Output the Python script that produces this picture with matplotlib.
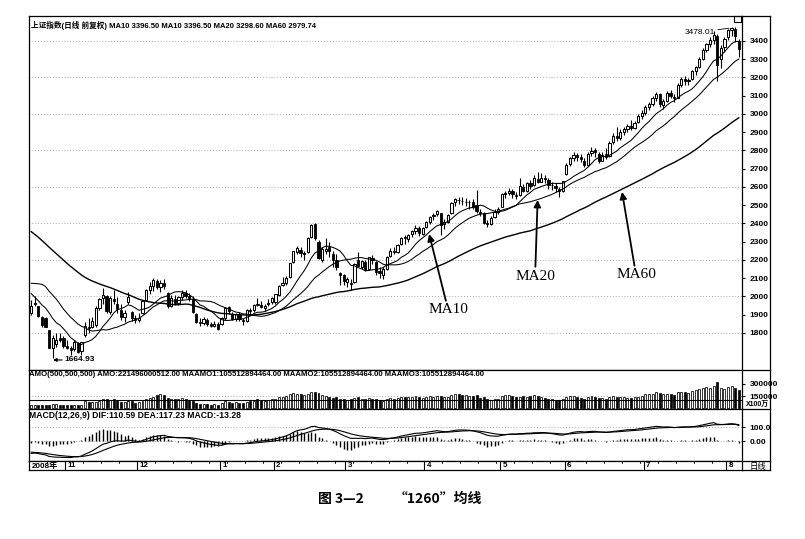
import matplotlib
matplotlib.use('Agg')
import matplotlib.pyplot as plt
from matplotlib.lines import Line2D
from matplotlib.patches import Rectangle
import numpy as np
import pandas as pd

plt.rcParams['font.family'] = ['Liberation Sans', 'Noto Sans CJK SC', 'DejaVu Sans']

W, H = 805, 539

# closes before the visible window (late Jul - Oct 17 2008), only used for MA60 / MACD
pre_close = [2860, 2860, 2900, 2920, 2860, 2850, 2800, 2830, 2775,
             2803, 2717, 2670, 2668, 2657, 2605, 2470, 2435, 2420, 2450, 2450,
             2320, 2370, 2445, 2400, 2405, 2400, 2350, 2375, 2370, 2397,
             2325, 2337, 2300, 2290, 2202, 2143, 2146, 2151, 2078, 2079,
             1986, 1929, 1895, 2075, 2236, 2201, 2201, 2298, 2293,
             2173, 2157, 2093, 2074, 2000, 1990, 2073, 1996, 1895, 1930]

# visible daily bars, 2008-10-20 .. 2009-08-06
opens = [
    1910, 1960, 1945, 1890, 1880, 1815, 1715, 1740, 1775, 1770,
    1727, 1715, 1710, 1745, 1700, 1790, 1835, 1830, 1845, 1935, 1990, 2000, 1915, 1985, 1960, 1925, 1885, 1968, 1915, 1880,
    1870, 1910, 1980, 2035, 2055, 2085, 2050, 2075, 2020, 1945, 1985, 1965, 1995, 2020, 2000, 1985, 1905, 1860, 1855, 1870, 1850, 1840, 1850,
    1850, 1880, 1940, 1905, 1875, 1905, 1870, 1865, 1925, 1925, 1960, 1955, 1935, 1960, 1970,
    1970, 2010, 2065, 2075, 2105, 2190, 2245, 2255, 2235, 2245, 2325, 2395, 2300, 2200, 2250, 2270, 2230, 2200, 2130, 2115,
    2080, 2075, 2080, 2200, 2160, 2190, 2150, 2210, 2190, 2140, 2120, 2150, 2220, 2250, 2245, 2285, 2325, 2315, 2340, 2360, 2375, 2345,
    2380, 2410, 2440, 2450, 2455, 2395, 2410, 2455, 2515, 2530, 2525, 2520, 2515, 2515, 2500, 2465, 2455, 2400, 2395, 2435, 2465,
    2490, 2560, 2565, 2580, 2555, 2555, 2600, 2580, 2620, 2610, 2645, 2630, 2650, 2640, 2610, 2605, 2590, 2580,
    2670, 2725, 2760, 2775, 2765, 2745, 2720, 2785, 2800, 2780, 2745, 2780, 2770, 2845, 2880, 2870, 2900, 2915, 2935, 2925, 2955, 2990,
    3005, 3040, 3055, 3090, 3110, 3050, 3070, 3115, 3095, 3090, 3160, 3190, 3180, 3190, 3235, 3255, 3300, 3350, 3385, 3405, 3430, 3300, 3365,
    3420, 3460, 3465, 3400]
highs = [
    1980, 2000, 1950, 1895, 1890, 1818, 1790, 1800, 1800, 1785,
    1760, 1730, 1760, 1750, 1750, 1860, 1880, 1885, 1945, 1990, 2045, 2010, 2000, 2035, 1995, 1960, 1925, 2022, 1920, 1900,
    1910, 1982, 2040, 2080, 2100, 2095, 2090, 2095, 2025, 2010, 2010, 2005, 2035, 2035, 2020, 2000, 1910, 1880, 1885, 1880, 1860, 1865, 1858,
    1885, 1940, 1945, 1915, 1910, 1915, 1880, 1930, 1935, 1960, 1990, 1975, 1960, 1985, 1995,
    2015, 2062, 2105, 2110, 2185, 2250, 2275, 2272, 2250, 2325, 2395, 2402, 2310, 2270, 2320, 2300, 2250, 2230, 2135, 2125,
    2105, 2095, 2185, 2245, 2200, 2200, 2215, 2225, 2195, 2160, 2160, 2220, 2265, 2270, 2285, 2325, 2335, 2345, 2365, 2390, 2385, 2380,
    2415, 2440, 2455, 2475, 2460, 2425, 2450, 2520, 2540, 2545, 2545, 2540, 2530, 2535, 2585, 2480, 2465, 2420, 2440, 2480, 2490,
    2565, 2580, 2595, 2590, 2575, 2650, 2615, 2630, 2640, 2665, 2680, 2675, 2665, 2650, 2630, 2620, 2600, 2635,
    2730, 2765, 2790, 2785, 2780, 2760, 2790, 2820, 2815, 2790, 2790, 2815, 2850, 2895, 2930, 2915, 2930, 2945, 2965, 2960, 3000, 3020,
    3050, 3065, 3100, 3120, 3115, 3080, 3125, 3130, 3110, 3170, 3200, 3210, 3195, 3240, 3265, 3310, 3360, 3390, 3420, 3454, 3440, 3380, 3420,
    3465, 3478.01, 3475, 3410]
lows = [
    1900, 1945, 1890, 1835, 1830, 1718, 1664.93, 1725, 1750, 1720,
    1712, 1678, 1700, 1690, 1680, 1780, 1800, 1825, 1835, 1925, 1960, 1910, 1905, 1960, 1910, 1870, 1860, 1960, 1865, 1855,
    1860, 1905, 1975, 2015, 2030, 2040, 2025, 2040, 1935, 1940, 1955, 1955, 1980, 1990, 1975, 1910, 1855, 1840, 1845, 1840, 1830, 1830, 1815,
    1845, 1870, 1905, 1870, 1865, 1865, 1845, 1860, 1900, 1915, 1945, 1935, 1920, 1950, 1960,
    1960, 2005, 2060, 2065, 2100, 2185, 2230, 2215, 2200, 2240, 2320, 2310, 2205, 2190, 2235, 2215, 2160, 2145, 2065, 2065,
    2050, 2037, 2075, 2160, 2150, 2140, 2145, 2180, 2120, 2100, 2095, 2145, 2215, 2230, 2240, 2280, 2290, 2300, 2325, 2345, 2330, 2335,
    2375, 2395, 2420, 2440, 2335, 2370, 2405, 2450, 2495, 2505, 2500, 2495, 2480, 2480, 2460, 2440, 2395, 2380, 2390, 2430, 2450,
    2488, 2540, 2555, 2540, 2535, 2550, 2570, 2575, 2590, 2605, 2620, 2625, 2620, 2590, 2585, 2570, 2545, 2575,
    2665, 2715, 2745, 2740, 2735, 2710, 2715, 2770, 2765, 2730, 2740, 2755, 2765, 2835, 2850, 2860, 2885, 2900, 2910, 2915, 2950, 2975,
    2995, 3020, 3045, 3070, 3040, 3030, 3065, 3085, 3065, 3085, 3150, 3160, 3160, 3185, 3215, 3250, 3295, 3340, 3365, 3385, 3180, 3250, 3340,
    3405, 3425, 3395, 3310]
closes = [
    1948, 1965, 1895, 1842, 1835, 1720, 1771, 1763, 1763, 1729,
    1720, 1706, 1750, 1694, 1748, 1838, 1828, 1868, 1935, 1985, 2010, 1920, 1990, 1975, 1930, 1890, 1910, 1995, 1880, 1871,
    1880, 1975, 2035, 2060, 2090, 2050, 2075, 2060, 1945, 1990, 1965, 1995, 2020, 2005, 1985, 1915, 1862, 1853, 1875, 1850, 1840, 1850, 1821,
    1882, 1937, 1920, 1876, 1904, 1876, 1863, 1928, 1920, 1955, 1955, 1943, 1950, 1964, 1990,
    2011, 2060, 2075, 2101, 2181, 2248, 2265, 2240, 2237, 2320, 2389, 2320, 2209, 2261, 2261, 2250, 2200, 2160, 2119, 2082,
    2093, 2071, 2180, 2165, 2193, 2145, 2215, 2199, 2133, 2128, 2153, 2217, 2250, 2246, 2281, 2320, 2320, 2339, 2359, 2374, 2350, 2373,
    2408, 2436, 2445, 2471, 2391, 2410, 2444, 2513, 2535, 2529, 2521, 2520, 2519, 2493, 2468, 2460, 2404, 2395, 2432, 2465, 2477,
    2559, 2567, 2579, 2560, 2551, 2605, 2579, 2622, 2605, 2647, 2629, 2649, 2645, 2611, 2610, 2597, 2577, 2632,
    2722, 2760, 2776, 2765, 2754, 2721, 2780, 2797, 2791, 2744, 2776, 2765, 2840, 2880, 2870, 2900, 2915, 2935, 2925, 2950, 2990, 3005,
    3040, 3055, 3090, 3110, 3055, 3070, 3115, 3100, 3085, 3160, 3190, 3180, 3185, 3235, 3255, 3300, 3350, 3385, 3405, 3434, 3266, 3361, 3412,
    3460, 3471, 3428, 3356]
# turnover, x100万
amount = [
    40000, 38000, 35000, 42000, 40000, 36000, 55000, 48000, 45000, 40000,
    38000, 35000, 42000, 40000, 45000, 85000, 80000, 78000, 82000, 95000, 110000, 120000, 105000, 110000, 100000, 80000, 75000, 90000, 85000, 70000,
    72000, 95000, 115000, 125000, 140000, 165000, 170000, 160000, 130000, 115000, 110000, 120000, 125000, 115000, 105000, 95000, 70000, 55000, 50000, 48000, 45000, 50000, 45000,
    60000, 85000, 80000, 70000, 72000, 70000, 65000, 80000, 85000, 95000, 110000, 100000, 95000, 105000, 115000,
    120000, 135000, 140000, 150000, 170000, 185000, 180000, 175000, 165000, 180000, 200000, 195000, 185000, 160000, 150000, 145000, 130000, 135000, 120000, 115000,
    105000, 110000, 130000, 135000, 120000, 115000, 125000, 120000, 115000, 100000, 95000, 115000, 125000, 120000, 130000, 140000, 135000, 140000, 145000, 150000, 135000, 130000,
    140000, 150000, 145000, 155000, 150000, 135000, 140000, 165000, 175000, 170000, 165000, 160000, 155000, 150000, 165000, 130000, 140000, 115000, 105000, 110000, 120000,
    150000, 160000, 165000, 150000, 135000, 140000, 155000, 145000, 150000, 160000, 150000, 140000, 130000, 120000, 110000, 105000, 100000, 115000,
    140000, 155000, 150000, 145000, 130000, 120000, 135000, 150000, 145000, 130000, 125000, 120000, 140000, 150000, 145000, 140000, 135000, 130000, 125000, 135000, 140000, 150000,
    170000, 175000, 180000, 200000, 190000, 170000, 180000, 175000, 165000, 195000, 205000, 200000, 190000, 215000, 220000, 235000, 245000, 260000, 255000, 270000, 320000, 250000, 240000,
    260000, 280000, 245000, 221496]
maamo = 105512.894464

month_pos = [0, 10, 30, 53, 68, 88, 110, 131, 149, 171, 194]
month_lab = ['2008年', '11', '12', '1', '2', '3', '4', '5', '6', '7', '8']

n = len(closes)
assert len(opens) == n and len(highs) == n and len(lows) == n and len(amount) == n

full = pd.Series(pre_close + closes, dtype=float)
ma10 = full.rolling(10).mean().values[-n:]
ma20 = full.rolling(20).mean().values[-n:]
ma60 = full.rolling(60).mean().values[-n:]
dif = full.ewm(span=12, adjust=False).mean() - full.ewm(span=26, adjust=False).mean()
dea = dif.ewm(span=9, adjust=False).mean()
macd = 2 * (dif - dea)
dif, dea, macd = dif.values[-n:], dea.values[-n:], macd.values[-n:]

x = np.arange(n)
o = np.array(opens, float)
c = np.array(closes, float)
up = c >= o

fig = plt.figure(figsize=(W / 100, H / 100), dpi=100)
fig.patch.set_facecolor('white')

L, R, RR = 29, 742, 770


def panel(top, bottom):
    ax = fig.add_axes([L / W, 1 - bottom / H, (R - L) / W, (bottom - top) / H])
    ax.set_xlim(-0.6, n - 0.1)
    for s in ax.spines.values():
        s.set_linewidth(0.9)
    ax.set_xticks([])
    return ax


def right_ticks(ax, ticks, labels):
    ax.yaxis.tick_right()
    ax.set_yticks(ticks)
    ax.set_yticklabels(labels)
    ax.tick_params(axis='y', direction='out', length=2.5, width=0.8, pad=3,
                   labelsize=6)
    for t in ax.get_yticklabels():
        t.set_fontweight('bold')


grid_kw = dict(color='#8c8c8c', lw=0.6, ls=(0, (1, 2.5)))

# ---- price panel
ax = panel(16, 370)
ax.set_ylim(1597, 3537)
for g in range(1800, 3401, 200):
    ax.axhline(g, **grid_kw, zorder=0)
ax.vlines(x, lows, highs, color='k', lw=0.8, zorder=2)
body_lo = np.minimum(o, c)
body_h = np.abs(c - o)
ax.bar(x[up], body_h[up], bottom=body_lo[up], width=0.62, facecolor='white',
       edgecolor='k', lw=0.75, zorder=3)
ax.bar(x[~up], body_h[~up], bottom=body_lo[~up], width=0.62, facecolor='k',
       edgecolor='k', lw=0.6, zorder=3)
ax.plot(x, ma10, color='k', lw=0.75, zorder=4)
ax.plot(x, ma20, color='k', lw=0.75, zorder=4)
ax.plot(x, ma60, color='k', lw=1.0, zorder=4)
right_ticks(ax, list(range(1800, 3401, 100)), [str(v) for v in range(1800, 3401, 100)])

ax.text(0.003, 0.985, '上证指数(日线 前复权) MA10 3396.50 MA10 3396.50 MA20 3298.60 MA60 2979.74',
        transform=ax.transAxes, ha='left', va='top', fontsize=5.5, fontweight='bold',
        family=['Liberation Sans', 'Noto Sans CJK SC'])

ax.annotate('3478.01', xy=(194.3, 3470), xytext=(190.4, 3449), ha='right', va='center',
            fontsize=6, arrowprops=dict(arrowstyle='-', color='k', lw=0.6, shrinkA=0, shrinkB=0))
ax.annotate('1664.93', xy=(6.1, 1652), xytext=(9.4, 1652), ha='left', va='center',
            fontsize=6, fontweight='bold',
            arrowprops=dict(arrowstyle='-|>', color='k', lw=0.8, mutation_scale=5,
                            shrinkA=0, shrinkB=0))

arr = dict(arrowstyle='-|>', color='k', lw=1.3, mutation_scale=10, shrinkA=0, shrinkB=0)
lab_kw = dict(ha='center', va='center', fontsize=11, family='Liberation Serif')
ax.annotate('MA10', xy=(110.8, 2342), xytext=(116.1, 1926), arrowprops=arr, **lab_kw)
ax.annotate('MA20', xy=(141.0, 2529), xytext=(140.3, 2112), arrowprops=arr, **lab_kw)
ax.annotate('MA60', xy=(164.5, 2573), xytext=(168.4, 2118), arrowprops=arr, **lab_kw)

# ---- turnover panel
av = panel(370, 409)
av.set_ylim(-8000, 470000)
av.axhline(150000, **grid_kw, zorder=0)
amt = np.array(amount, float)
av.bar(x[up], amt[up], width=0.55, facecolor='white', edgecolor='k', lw=0.55)
av.bar(x[~up], amt[~up], width=0.55, facecolor='k', edgecolor='k', lw=0.5)
av.axhline(maamo, color='k', lw=0.8)
right_ticks(av, [150000, 300000], ['150000', '300000'])
av.text(0.0, 0.97, 'AMO(500,500,500) AMO:221496000512.00 MAAMO1:105512894464.00 '
        'MAAMO2:105512894464.00 MAAMO3:105512894464.00',
        transform=av.transAxes, ha='left', va='top', fontsize=5.6, fontweight='bold')

# ---- MACD panel
am = panel(409, 461)
am.set_ylim(-143, 229)
am.axhline(100, **grid_kw, zorder=0)
am.axhline(0, **grid_kw, zorder=0)
am.vlines(x, 0, macd, color='k', lw=1.0)
am.plot(x, dif, color='k', lw=0.8)
am.plot(x, dea, color='k', lw=0.8)
right_ticks(am, [0, 100], ['0.00', '100.0'])
am.text(0.0, 0.97, 'MACD(12,26,9) DIF:110.59 DEA:117.23 MACD:-13.28',
        transform=am.transAxes, ha='left', va='top', fontsize=6.2, fontweight='bold')

# ---- date bar
ad = panel(461, 470)
ad.set_ylim(0, 1)
ad.set_yticks([])
for p in range(0, n, 5):
    ad.plot([p - 0.5, p - 0.5], [0.75, 1], color='k', lw=0.6)
for p, lab in zip(month_pos, month_lab):
    if p > 0:
        ad.plot([p - 0.5, p - 0.5], [0, 1], color='k', lw=0.8)
    ad.text(p + 0.2, 0.45, lab, ha='left', va='center', fontsize=5.8, fontweight='bold',
            family=['Liberation Sans', 'Noto Sans CJK SC'])

# ---- right column frame
def fline(x0, y0, x1, y1, lw=0.9):
    fig.add_artist(Line2D([x0 / W, x1 / W], [1 - y0 / H, 1 - y1 / H], color='k', lw=lw))


for yy in (16, 370, 409, 461, 470):
    fline(R, yy, RR, yy)
fline(RR, 16, RR, 470)
fig.add_artist(Rectangle((734 / W, 1 - 22 / H), 7 / W, 6 / H, fill=False, lw=0.8,
                         edgecolor='k'))
fig.text(746 / W, 1 - 404 / H, 'X100万', fontsize=5, fontweight='bold', va='center',
         family=['Liberation Sans', 'Noto Sans CJK SC'])
fig.text(758 / W, 1 - 466 / H, '日线', fontsize=6, ha='center', va='center',
         family=['Noto Sans CJK SC'])

# ---- caption
fig.text(318 / W, 1 - 499 / H, '图 3—2', fontsize=10, fontweight='bold', va='center',
         family=['Noto Sans CJK SC'])
fig.text(394 / W, 1 - 499 / H, '“1260”均线', fontsize=10, fontweight='bold', va='center',
         family=['Noto Sans CJK SC'])

fig.savefig('out.png', dpi=100)
